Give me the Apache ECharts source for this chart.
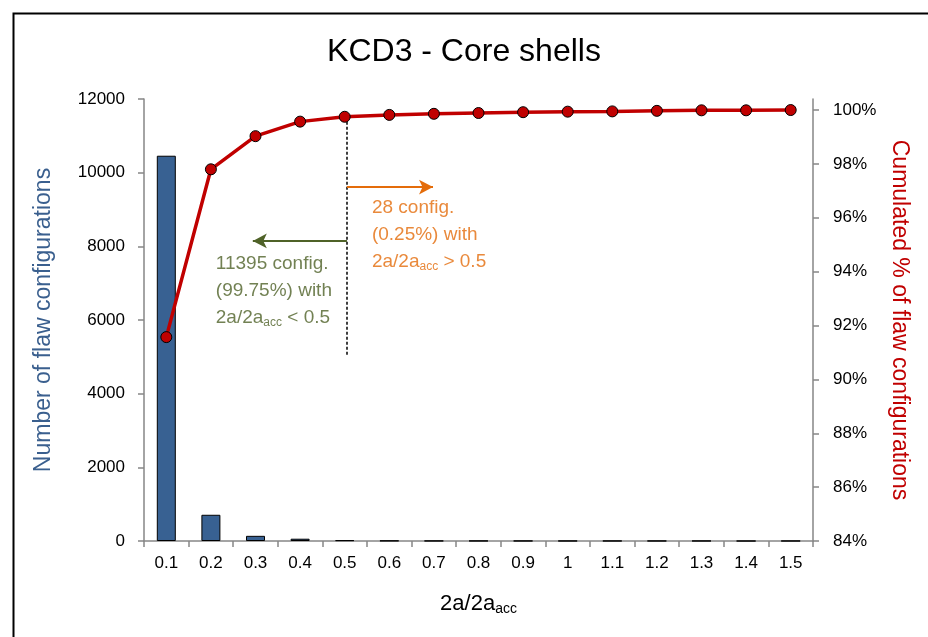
<!DOCTYPE html>
<html>
<head>
<meta charset="utf-8">
<script src="https://cdn.jsdelivr.net/npm/echarts@6/dist/echarts.min.js"></script>
<style>
html,body{margin:0;padding:0;background:#fff;}
#chart{width:928px;height:637px;}
</style>
</head>
<body>
<div id="chart"></div>
<script>
// ---- data ----
const categories = ['0.1','0.2','0.3','0.4','0.5','0.6','0.7','0.8','0.9','1','1.1','1.2','1.3','1.4','1.5'];
const flawCounts = [10460, 712, 140, 62, 21, 8, 4, 4, 3, 2, 2, 2, 2, 0, 1];
const cumulatedPct = [0.9157, 0.9780, 0.9903, 0.9957, 0.9975, 0.9982, 0.9986, 0.9989, 0.9992, 0.9994, 0.9995, 0.9997, 0.9999, 0.9999, 1.0];
const leftTicks = [0, 2000, 4000, 6000, 8000, 10000, 12000];
const rightTicks = [0.84, 0.86, 0.88, 0.90, 0.92, 0.94, 0.96, 0.98, 1.00];

const FONT = 'Liberation Sans';
const AXIS_GREY = '#868686';
const chart = echarts.init(document.getElementById('chart'));

const subRich = (size, color) => ({
  n: {fontSize: size, color: color, fontFamily: FONT},
  s: {fontSize: Math.round(size * 0.62), color: color, fontFamily: FONT, padding: [Math.round(size*0.5), 0, 0, 0]}
});

const greenRich = subRich(19, '#4F6228');
const orangeRich = subRich(19, '#E46C0A');

const option = {
  animation: false,
  backgroundColor: '#fff',
  textStyle: {fontFamily: FONT},
  title: {
    text: 'KCD3 - Core shells',
    left: 'center',
    top: 31,
    textStyle: {fontFamily: FONT, fontSize: 32, fontWeight: 'normal', color: '#000'}
  },
  graphic: [{
    type: 'rect', left: 11, top: 11, silent: true,
    shape: {x: 0, y: 0, width: 1000, height: 1000},
    style: {fill: 'none', stroke: '#000', lineWidth: 2}
  }],
  grid: {left: 144, right: 115, top: 99, bottom: 96, containLabel: false},
  xAxis: [{
    type: 'category',
    data: categories,
    boundaryGap: true,
    axisLine: {show: true, lineStyle: {color: AXIS_GREY, width: 1.5}},
    axisTick: {show: true, length: 6, lineStyle: {color: AXIS_GREY, width: 1.5}},
    axisLabel: {fontSize: 17, color: '#000', margin: 14, fontFamily: FONT},
    splitLine: {show: false},
    name: '{n|2a/2a}{s|acc}',
    nameLocation: 'middle',
    nameGap: 50,
    nameTextStyle: {rich: subRich(22, '#000')}
  }, {
    type: 'value', min: 0, max: 15, show: false
  }],
  yAxis: [{
    type: 'value',
    position: 'left',
    min: 0, max: 12000, interval: 2000,
    axisLine: {show: true, lineStyle: {color: AXIS_GREY, width: 1.5}},
    axisTick: {show: true, length: 6, lineStyle: {color: AXIS_GREY, width: 1.5}},
    axisLabel: {fontSize: 17, color: '#000', margin: 19, fontFamily: FONT,
      customValues: leftTicks,
      formatter: v => String(v)},
    splitLine: {show: false},
    name: 'Number of flaw configurations',
    nameLocation: 'middle',
    nameGap: 89,
    nameTextStyle: {fontSize: 23, color: '#3A5F8E', fontFamily: FONT}
  }, {
    type: 'value',
    position: 'right',
    min: 0.84, max: 1.0041,
    axisLine: {show: true, lineStyle: {color: AXIS_GREY, width: 1.5}},
    axisTick: {show: true, length: 6, lineStyle: {color: AXIS_GREY, width: 1.5}, customValues: rightTicks},
    axisLabel: {fontSize: 17, color: '#000', margin: 20, fontFamily: FONT,
      customValues: rightTicks,
      formatter: v => Math.round(v * 100) + '%'},
    splitLine: {show: false},
    name: 'Cumulated % of flaw configurations',
    nameLocation: 'middle',
    nameGap: 67,
    nameRotate: -90,
    nameTextStyle: {fontSize: 23, color: '#C00000', fontFamily: FONT}
  }],
  series: [{
    name: 'Number of flaw configurations',
    type: 'bar',
    xAxisIndex: 0, yAxisIndex: 0,
    data: flawCounts,
    barWidth: 19,
    itemStyle: {color: '#386192', borderColor: '#000', borderWidth: 1}
  }, {
    name: 'Cumulated %',
    type: 'line',
    xAxisIndex: 0, yAxisIndex: 1,
    data: cumulatedPct,
    z: 5,
    lineStyle: {color: '#C00000', width: 3.5},
    symbol: 'circle',
    symbolSize: 11,
    itemStyle: {color: '#C00000', borderColor: '#000', borderWidth: 1}
  }, {
    name: 'annotations',
    type: 'scatter',
    xAxisIndex: 1, yAxisIndex: 1,
    symbolSize: 0,
    z: 4,
    silent: true,
    data: [
      {value: [1.61, 0.9479], label: {show: true, position: [0, 0], align: 'left', verticalAlign: 'top', lineHeight: 27,
        formatter: '{n|11395 config.}\n{n|(99.75%) with}\n{n|2a/2a}{s|acc}{n| < 0.5}', rich: greenRich}},
      {value: [5.11, 0.9686], label: {show: true, position: [0, 0], align: 'left', verticalAlign: 'top', lineHeight: 27,
        formatter: '{n|28 config.}\n{n|(0.25%) with}\n{n|2a/2a}{s|acc}{n| > 0.5}', rich: orangeRich}}
    ],
    markLine: {
      silent: true,
      animation: false,
      label: {show: false},
      data: [
        [{coord: [4.55, 0.9975], symbol: 'none', lineStyle: {color: '#000', type: [3, 2], width: 1.5}},
         {coord: [4.55, 0.9091], symbol: 'none'}],
        [{coord: [4.55, 0.9514], symbol: 'none', lineStyle: {color: '#4F6228', type: 'solid', width: 2}},
         {coord: [2.44, 0.9514], symbol: 'arrow', symbolSize: [11, 14]}],
        [{coord: [4.55, 0.9714], symbol: 'none', lineStyle: {color: '#E46C0A', type: 'solid', width: 2}},
         {coord: [6.48, 0.9714], symbol: 'arrow', symbolSize: [11, 14]}]
      ]
    }
  }]
};
chart.setOption(option);
</script>
</body>
</html>
